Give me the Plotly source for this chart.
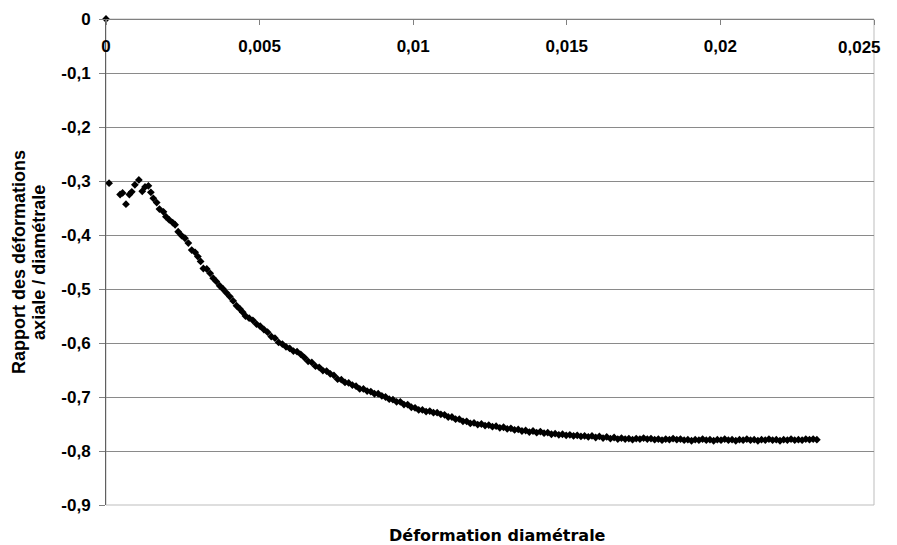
import plotly.graph_objects as go

# deformation diametrale (x) / rapport axiale-diametrale (y), early part
x_early = [0.0, 0.0001, 0.00046, 0.00054, 0.00065, 0.00076, 0.00084, 0.00094, 0.00107, 0.00118,
           0.00127, 0.00138, 0.00146, 0.00154, 0.00165, 0.00174, 0.00187, 0.00195, 0.00206, 0.00217,
           0.00225, 0.00235, 0.00246, 0.00257, 0.00268, 0.00279, 0.0029, 0.00299, 0.00308, 0.00317,
           0.00328, 0.00339, 0.00349, 0.00359, 0.0037, 0.00381, 0.00392, 0.00403, 0.00414, 0.00425,
           0.00436, 0.00445]
y_early = [0.0, -0.304, -0.325, -0.322, -0.343, -0.325, -0.320, -0.307, -0.298, -0.319,
           -0.311, -0.309, -0.321, -0.332, -0.340, -0.352, -0.357, -0.366, -0.372, -0.377,
           -0.381, -0.394, -0.401, -0.406, -0.415, -0.428, -0.432, -0.440, -0.449, -0.462,
           -0.463, -0.471, -0.480, -0.486, -0.494, -0.500, -0.507, -0.514, -0.522, -0.531,
           -0.537, -0.543]

x_main = [0.00454, 0.00466, 0.00478, 0.00490, 0.00502, 0.00514, 0.00526, 0.00538, 0.00550, 0.00562,
          0.00574, 0.00586, 0.00598, 0.00610, 0.00622, 0.00634, 0.00646, 0.00658, 0.00670, 0.00682,
          0.00694, 0.00706, 0.00718, 0.00730, 0.00742, 0.00754, 0.00766, 0.00778, 0.00790, 0.00802,
          0.00814, 0.00826, 0.00838, 0.00850, 0.00862, 0.00874, 0.00886, 0.00898, 0.00910, 0.00922,
          0.00934, 0.00946, 0.00958, 0.00970, 0.00982, 0.00994, 0.01006, 0.01018, 0.01030, 0.01042,
          0.01054, 0.01066, 0.01078, 0.01090, 0.01102, 0.01114, 0.01126, 0.01138, 0.01150, 0.01162,
          0.01174, 0.01186, 0.01198, 0.01210, 0.01222, 0.01234, 0.01246, 0.01258, 0.01270, 0.01282,
          0.01294, 0.01306, 0.01318, 0.01330, 0.01342, 0.01354, 0.01366, 0.01378, 0.01390, 0.01402,
          0.01414, 0.01426, 0.01438, 0.01450, 0.01462, 0.01474, 0.01486, 0.01498, 0.01510, 0.01522,
          0.01534, 0.01546, 0.01558, 0.01570, 0.01582, 0.01594, 0.01606, 0.01618, 0.01630, 0.01642,
          0.01654, 0.01666, 0.01678, 0.01690, 0.01702, 0.01714, 0.01726, 0.01738, 0.01750, 0.01762,
          0.01774, 0.01786, 0.01798, 0.01810, 0.01822, 0.01834, 0.01846, 0.01858, 0.01870, 0.01882,
          0.01894, 0.01906, 0.01918, 0.01930, 0.01942, 0.01954, 0.01966, 0.01978, 0.01990, 0.02002,
          0.02014, 0.02026, 0.02038, 0.02050, 0.02062, 0.02074, 0.02086, 0.02098, 0.02110, 0.02122,
          0.02134, 0.02146, 0.02158, 0.02170, 0.02182, 0.02194, 0.02206, 0.02218, 0.02230, 0.02242,
          0.02254, 0.02266, 0.02278, 0.02290, 0.02302, 0.02314]
y_main = [-0.550, -0.554, -0.558, -0.565, -0.569, -0.575, -0.580, -0.588, -0.591, -0.599,
          -0.602, -0.607, -0.610, -0.615, -0.616, -0.621, -0.627, -0.634, -0.636, -0.643,
          -0.645, -0.651, -0.652, -0.657, -0.660, -0.667, -0.668, -0.673, -0.674, -0.678,
          -0.680, -0.685, -0.685, -0.689, -0.690, -0.694, -0.694, -0.698, -0.700, -0.704,
          -0.705, -0.709, -0.709, -0.714, -0.714, -0.719, -0.720, -0.724, -0.724, -0.727,
          -0.726, -0.729, -0.729, -0.732, -0.733, -0.737, -0.737, -0.741, -0.741, -0.745,
          -0.745, -0.749, -0.748, -0.751, -0.750, -0.753, -0.752, -0.755, -0.754, -0.757,
          -0.756, -0.759, -0.758, -0.761, -0.760, -0.763, -0.762, -0.765, -0.763, -0.766,
          -0.764, -0.767, -0.766, -0.769, -0.768, -0.770, -0.769, -0.771, -0.770, -0.772,
          -0.771, -0.773, -0.772, -0.774, -0.772, -0.775, -0.773, -0.776, -0.774, -0.777,
          -0.775, -0.778, -0.776, -0.778, -0.777, -0.779, -0.777, -0.778, -0.776, -0.778,
          -0.777, -0.779, -0.778, -0.780, -0.778, -0.779, -0.777, -0.779, -0.778, -0.780,
          -0.779, -0.781, -0.779, -0.780, -0.778, -0.780, -0.779, -0.781, -0.779, -0.780,
          -0.778, -0.780, -0.779, -0.781, -0.779, -0.780, -0.778, -0.780, -0.779, -0.781,
          -0.779, -0.780, -0.778, -0.780, -0.779, -0.781, -0.779, -0.780, -0.778, -0.780,
          -0.779, -0.780, -0.778, -0.779, -0.778, -0.779]

x_ticks = [0, 0.005, 0.01, 0.015, 0.02, 0.025]
x_labels = ["0", "0,005", "0,01", "0,015", "0,02", ""]
x_last_label = "0,025"
y_ticks = [0, -0.1, -0.2, -0.3, -0.4, -0.5, -0.6, -0.7, -0.8, -0.9]
y_labels = ["0", "-0,1", "-0,2", "-0,3", "-0,4", "-0,5", "-0,6", "-0,7", "-0,8", "-0,9"]

tick_font = dict(family="Liberation Sans, Arial", size=17, color="black", weight="bold")
title_font = dict(family="Liberation Sans, Arial", size=18, color="black", weight="bold")

fig = go.Figure()
fig.add_trace(go.Scatter(x=x_early + x_main, y=y_early + y_main, mode="markers",
                         marker=dict(symbol="diamond", size=6, color="black"),
                         cliponaxis=False, showlegend=False))

# the page body adds an 8px offset, margins compensate for it
fig.update_layout(
    width=897, height=545,
    margin=dict(l=98, r=31, t=11, b=48, autoexpand=False),
    paper_bgcolor="white", plot_bgcolor="white",
    xaxis=dict(range=[0, 0.025], tickvals=x_ticks, ticktext=x_labels,
               anchor="free", position=1, side="bottom", automargin=False,
               showline=True, linecolor="#808080", linewidth=1,
               ticks="outside", ticklen=5, tickcolor="#808080", ticklabelstandoff=7,
               showgrid=False, zeroline=False, tickfont=tick_font),
    yaxis=dict(range=[-0.9, 0], tickvals=y_ticks, ticktext=y_labels, automargin=False,
               showline=True, linecolor="#606060", linewidth=1,
               ticks="outside", ticklen=6, tickcolor="#808080",
               showgrid=True, gridcolor="#8a8a8a", gridwidth=1,
               zeroline=False, tickfont=tick_font, ticklabelstandoff=5),
    shapes=[dict(type="rect", xref="paper", yref="paper", x0=0, x1=1, y0=0, y1=1,
                 line=dict(color="#bdbdbd", width=1), layer="below")],
    annotations=[
        dict(text=x_last_label, xref="x", yref="paper", x=x_ticks[-1], y=1,
             xanchor="right", yanchor="top", xshift=9, yshift=-17, showarrow=False,
             font=tick_font),
        dict(text="Déformation diamétrale", xref="paper", yref="paper", x=0.51, y=-0.086,
             showarrow=False, font=dict(family="DejaVu Sans", size=16, color="black", weight="bold")),
        dict(text="Rapport des déformations", xref="paper", yref="paper",
             x=-0.129, y=0.5, textangle=-90, showarrow=False, font=title_font),
        dict(text="axiale / diamétrale", xref="paper", yref="paper",
             x=-0.103, y=0.5, textangle=-90, showarrow=False, font=title_font),
    ],
)

fig.write_html("out.html")
